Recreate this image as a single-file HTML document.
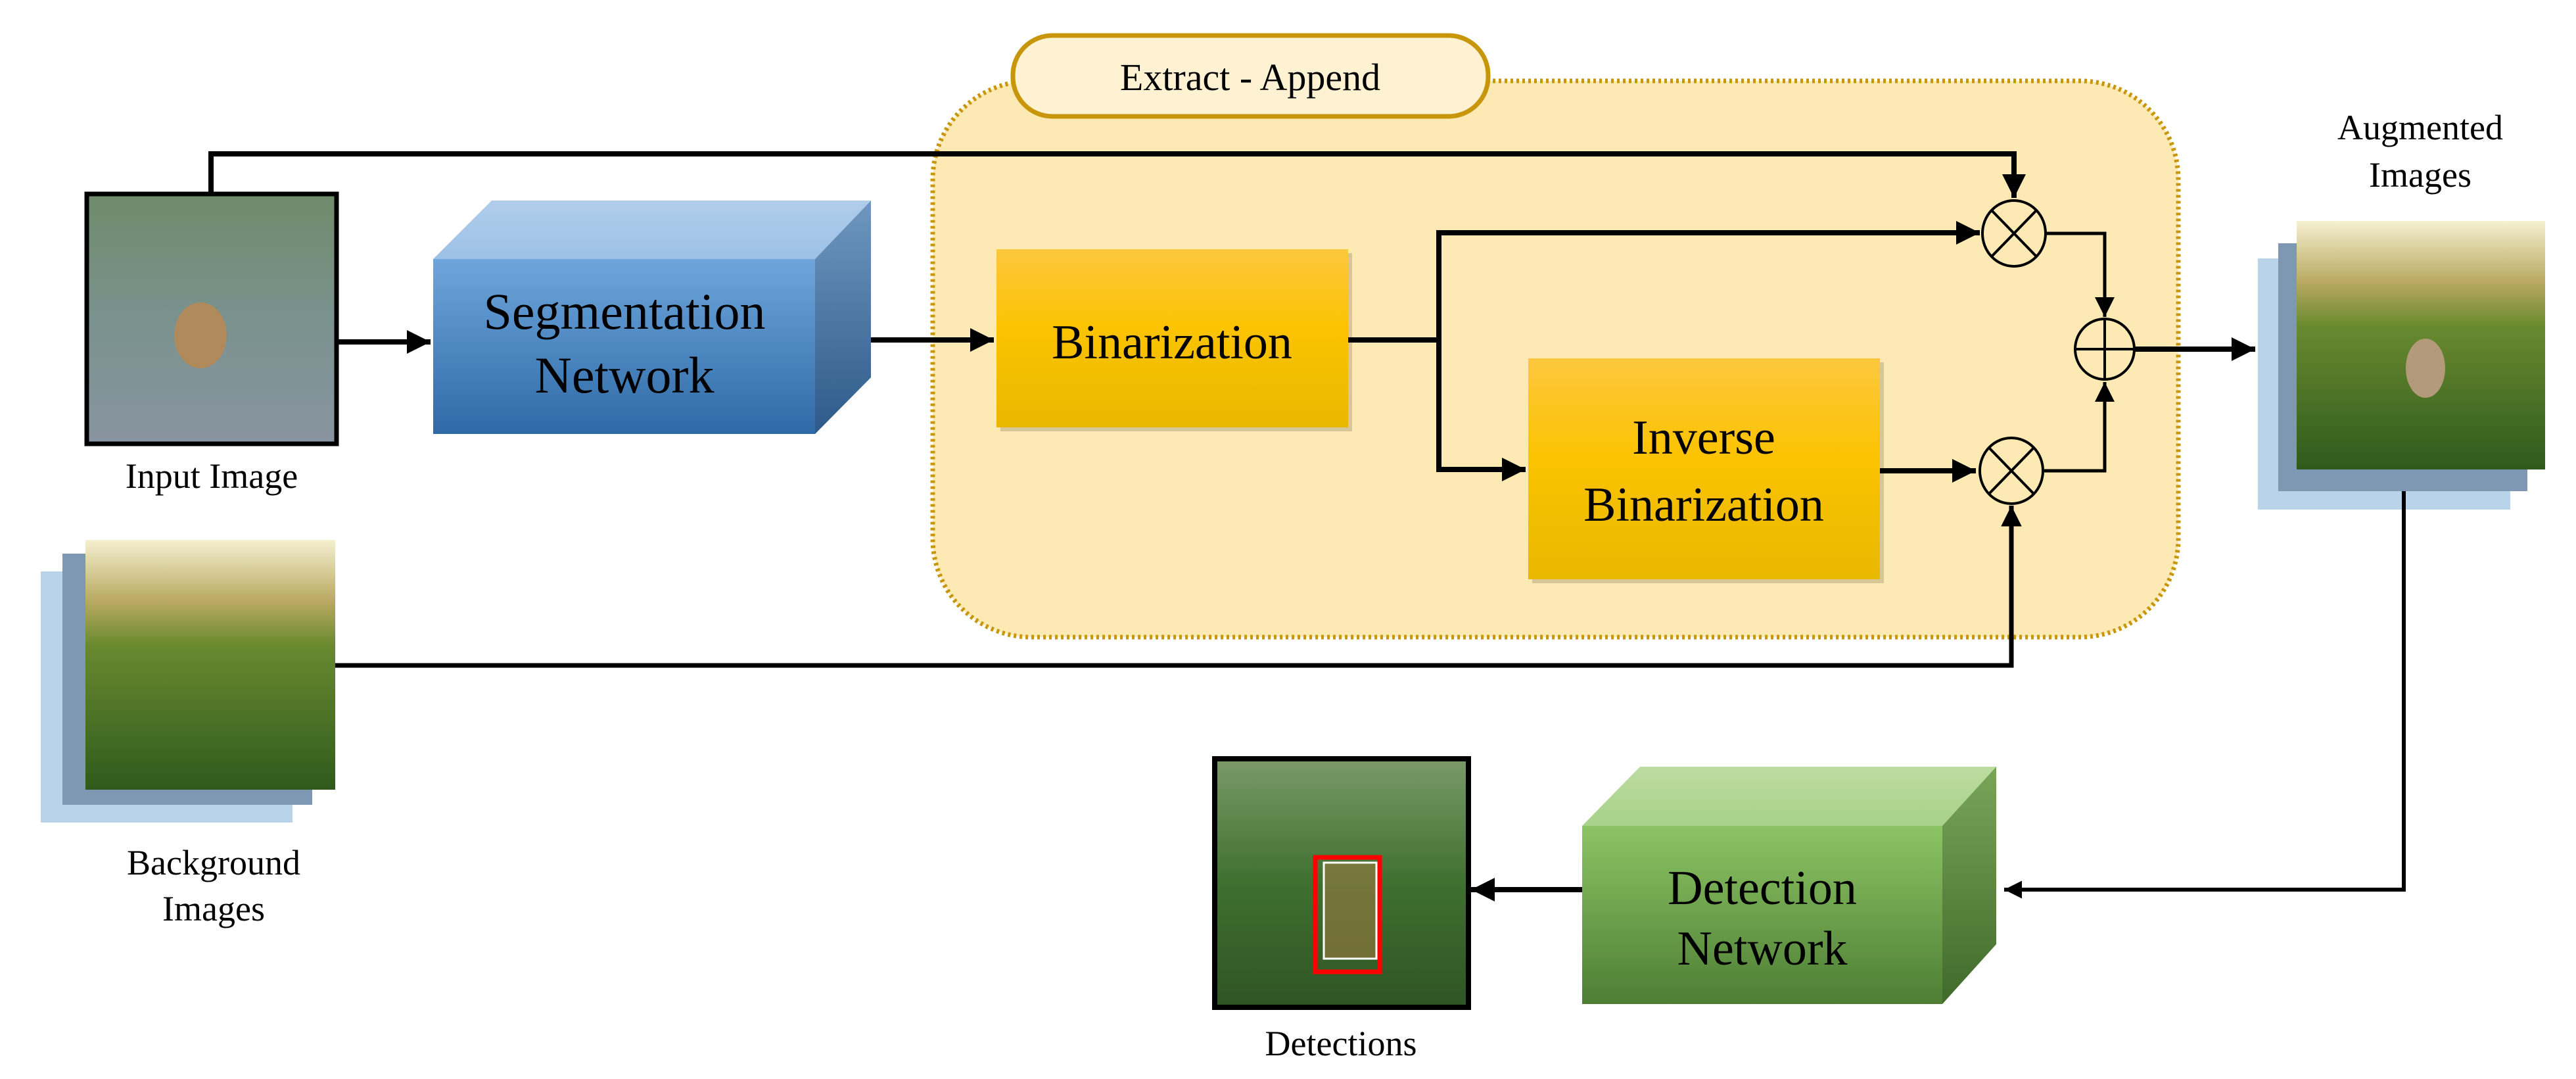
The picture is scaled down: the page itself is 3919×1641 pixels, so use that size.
<!DOCTYPE html>
<html><head><meta charset="utf-8"><style>
html,body{margin:0;padding:0;background:#fff;}
svg{display:block;}
text{font-family:"Liberation Serif",serif;fill:#000;}
</style></head><body>
<svg width="3919" height="1641" viewBox="0 0 3919 1641" xmlns="http://www.w3.org/2000/svg">
<defs>
<linearGradient id="segF" x1="0" y1="0" x2="0" y2="1"><stop offset="0" stop-color="#6ea6dc"/><stop offset="1" stop-color="#2f6aa6"/></linearGradient>
<linearGradient id="segT" x1="0" y1="0" x2="0" y2="1"><stop offset="0" stop-color="#b0cdea"/><stop offset="1" stop-color="#9cc1e6"/></linearGradient>
<linearGradient id="segS" x1="0" y1="0" x2="0" y2="1"><stop offset="0" stop-color="#6f97bf"/><stop offset="1" stop-color="#2d5a8a"/></linearGradient>
<linearGradient id="detF" x1="0" y1="0" x2="0" y2="1"><stop offset="0" stop-color="#8cc464"/><stop offset="1" stop-color="#4e7e34"/></linearGradient>
<linearGradient id="detT" x1="0" y1="0" x2="0" y2="1"><stop offset="0" stop-color="#bcdca0"/><stop offset="1" stop-color="#a8d18a"/></linearGradient>
<linearGradient id="detS" x1="0" y1="0" x2="0" y2="1"><stop offset="0" stop-color="#79a55a"/><stop offset="1" stop-color="#3f6a2a"/></linearGradient>
<linearGradient id="org" x1="0" y1="0" x2="0" y2="1"><stop offset="0" stop-color="#fdc73e"/><stop offset="0.45" stop-color="#fbc300"/><stop offset="1" stop-color="#e8b800"/></linearGradient>
<linearGradient id="grass" x1="0" y1="0" x2="0" y2="1"><stop offset="0" stop-color="#f5f0d0"/><stop offset="0.25" stop-color="#b8a860"/><stop offset="0.42" stop-color="#6a8a30"/><stop offset="1" stop-color="#2e5a1c"/></linearGradient>
<linearGradient id="water" x1="0" y1="0" x2="0" y2="1"><stop offset="0" stop-color="#6f8a6a"/><stop offset="0.5" stop-color="#7a928e"/><stop offset="1" stop-color="#8894a0"/></linearGradient>
<linearGradient id="forest" x1="0" y1="0" x2="0" y2="1"><stop offset="0" stop-color="#7a9a68"/><stop offset="0.5" stop-color="#3f7030"/><stop offset="1" stop-color="#2f5424"/></linearGradient>
<marker id="ah" viewBox="0 0 10 10" refX="10" refY="5" markerWidth="7" markerHeight="6" orient="auto" markerUnits="strokeWidth"><path d="M0,0 L10,5 L0,10 z" fill="#000"/></marker>
<marker id="ah2" viewBox="0 0 10 10" refX="10" refY="5" markerWidth="4.5" markerHeight="5" orient="auto" markerUnits="strokeWidth"><path d="M0,0 L10,5 L0,10 z" fill="#000"/></marker>
</defs>

<rect x="1419" y="123" width="1895" height="846" rx="150" fill="#fde9b3" stroke="#c8960a" stroke-width="7" stroke-dasharray="4 5"/>
<rect x="1541" y="54" width="723" height="123" rx="60" fill="#fef2d2" stroke="#c8960a" stroke-width="7"/>
<text x="1902" y="137" font-size="58" text-anchor="middle">Extract - Append</text>

<rect x="132" y="295" width="380" height="380" fill="url(#water)" stroke="#000" stroke-width="7"/>
<ellipse cx="305" cy="510" rx="40" ry="50" fill="#b08a5a"/>
<text x="322" y="742" font-size="54" text-anchor="middle">Input Image</text>

<rect x="62" y="869" width="383" height="382" fill="#b9d3ea"/>
<rect x="95" y="842" width="380" height="382" fill="#7e97b2"/>
<rect x="130" y="821" width="380" height="380" fill="url(#grass)"/>
<text x="325" y="1330" font-size="54" text-anchor="middle">Background</text>
<text x="325" y="1400" font-size="54" text-anchor="middle">Images</text>

<rect x="3435" y="393" width="384" height="382" fill="#b9d3ea"/>
<rect x="3466" y="370" width="379" height="377" fill="#7e97b2"/>
<rect x="3494" y="336" width="378" height="378" fill="url(#grass)"/>
<ellipse cx="3690" cy="560" rx="30" ry="45" fill="#b39a7a"/>
<text x="3682" y="212" font-size="54" text-anchor="middle">Augmented</text>
<text x="3682" y="284" font-size="54" text-anchor="middle">Images</text>

<rect x="1848" y="1154" width="386" height="378" fill="url(#forest)" stroke="#000" stroke-width="8"/>
<rect x="2001" y="1304" width="98" height="174" fill="none" stroke="#f00" stroke-width="7"/>
<rect x="2014" y="1312" width="80" height="146" fill="#9a7a40" fill-opacity="0.6" stroke="#fff" stroke-width="3"/>
<text x="2040" y="1605" font-size="54" text-anchor="middle">Detections</text>

<polygon points="659,394 748,305 1325,305 1240,394" fill="url(#segT)"/>
<polygon points="1240,394 1325,305 1325,574 1240,660" fill="url(#segS)"/>
<rect x="659" y="394" width="581" height="266" fill="url(#segF)"/>
<text x="950" y="500" font-size="78" text-anchor="middle">Segmentation</text>
<text x="950" y="597" font-size="78" text-anchor="middle">Network</text>

<polygon points="2407,1256 2495,1166 3037,1166 2955,1256" fill="url(#detT)"/>
<polygon points="2955,1256 3037,1166 3037,1436 2955,1527" fill="url(#detS)"/>
<rect x="2407" y="1256" width="548" height="271" fill="url(#detF)"/>
<text x="2681" y="1375" font-size="74" text-anchor="middle">Detection</text>
<text x="2681" y="1467" font-size="74" text-anchor="middle">Network</text>

<rect x="1522" y="385" width="535" height="271" fill="#000" opacity="0.15"/>
<rect x="1516" y="379" width="535" height="271" fill="url(#org)"/>
<text x="1783" y="545" font-size="74" text-anchor="middle">Binarization</text>
<rect x="2331" y="551" width="535" height="336" fill="#000" opacity="0.15"/>
<rect x="2325" y="545" width="535" height="336" fill="url(#org)"/>
<text x="2592" y="690" font-size="74" text-anchor="middle">Inverse</text>
<text x="2592" y="792" font-size="74" text-anchor="middle">Binarization</text>

<g fill="none" stroke="#000" stroke-width="8">
<path d="M514,520 L655,520" marker-end="url(#ah2)"/>
<path d="M1325,517 L1512,517" marker-end="url(#ah2)"/>
<path d="M2051,517 L2189,517"/>
<path d="M2189,517 L2189,354 L3012,354" marker-end="url(#ah2)"/>
<path d="M2189,517 L2189,714 L2321,714" marker-end="url(#ah2)"/>
<path d="M2860,716 L3006,716" marker-end="url(#ah2)"/>
<path d="M321,292 L321,234 L3064,234 L3064,301" marker-end="url(#ah2)"/>
<path d="M3247,531 L3431,531" marker-end="url(#ah2)"/>
<path d="M510,1012 L3060,1012 L3060,769" stroke-width="7" marker-end="url(#ah2)"/>
<path d="M3657,747 L3657,1353 L3049,1353" stroke-width="6" marker-end="url(#ah2)"/>
<path d="M2407,1353 L2238,1353" marker-end="url(#ah2)"/>
</g>
<g fill="none" stroke="#000" stroke-width="5">
<path d="M3112,355 L3202,355 L3202,482" marker-end="url(#ah)" />
<path d="M3110,716 L3202,716 L3202,581" marker-end="url(#ah)"/>
</g>
<g fill="none" stroke="#000" stroke-width="4">
<ellipse cx="3064" cy="355" rx="48" ry="50"/>
<line x1="3030" y1="320" x2="3098" y2="390"/><line x1="3098" y1="320" x2="3030" y2="390"/>
<ellipse cx="3060" cy="716" rx="48" ry="50"/>
<line x1="3026" y1="681" x2="3094" y2="751"/><line x1="3094" y1="681" x2="3026" y2="751"/>
<ellipse cx="3202" cy="531" rx="45" ry="46"/>
<line x1="3157" y1="531" x2="3247" y2="531"/><line x1="3202" y1="485" x2="3202" y2="577"/>
</g>
</svg>
</body></html>
